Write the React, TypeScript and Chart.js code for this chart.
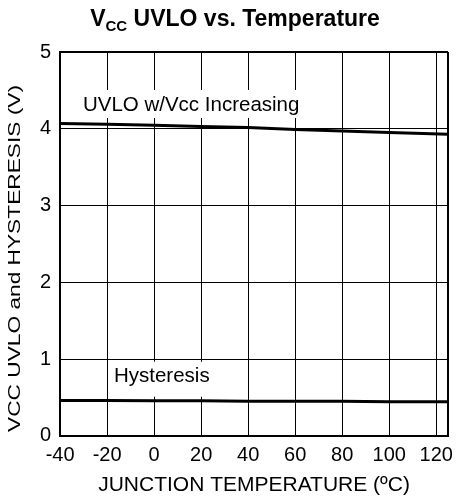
import React, { useEffect, useRef } from 'react';
import { Chart, registerables } from 'chart.js';

Chart.register(...registerables);

// ---- data ----
const temperatures = [-40, -20, 0, 20, 40, 60, 80, 100, 125];
const uvloIncreasing = [4.07, 4.06, 4.045, 4.03, 4.015, 3.99, 3.97, 3.95, 3.93];
const hysteresis = [0.46, 0.46, 0.455, 0.455, 0.45, 0.45, 0.45, 0.445, 0.445];
const xTickValues = [-40, -20, 0, 20, 40, 60, 80, 100, 120];
const yTickValues = [0, 1, 2, 3, 4, 5];
const xMin = -40;
const xMax = 125;
const yMin = 0;
const yMax = 5;

// ---- text ----
const titleMain = 'V';
const titleSub = 'CC';
const titleRest = ' UVLO vs. Temperature';
const yTitle = 'VCC UVLO and HYSTERESIS (V)';
const xTitle = 'JUNCTION TEMPERATURE (ºC)';
const seriesNames = ['UVLO w/Vcc Increasing', 'Hysteresis'];
// label anchors (data coordinates, left edge / vertical middle of the text)
const labelAnchorX = [-30.3, -17.1];
const labelAnchorY = [4.31, 0.77];

const FONT = '"Liberation Sans", Arial, Helvetica, sans-serif';

const textPlugin = {
  id: 'textPlugin',
  beforeDatasetsDraw(chart: any) {
    const { ctx, scales } = chart;
    const x = scales.x;
    const y = scales.y;
    const sizes = [20.5, 20.5];
    const padTop = [15, 15];
    const padBottom = [13, 20];
    ctx.save();
    seriesNames.forEach((name, i) => {
      ctx.font = `${sizes[i]}px ${FONT}`;
      const w = ctx.measureText(name).width;
      const px = x.getPixelForValue(labelAnchorX[i]);
      const py = y.getPixelForValue(labelAnchorY[i]);
      ctx.fillStyle = '#ffffff';
      ctx.fillRect(px - 4, py - padTop[i], w + 8, padTop[i] + padBottom[i]);
      ctx.fillStyle = '#000000';
      ctx.textAlign = 'left';
      ctx.textBaseline = 'middle';
      ctx.fillText(name, px, py);
    });
    ctx.restore();
  },
  afterDraw(chart: any) {
    const { ctx } = chart;
    ctx.save();
    // main title with subscript
    const bigFont = `bold 23px ${FONT}`;
    const subFont = `bold 15px ${FONT}`;
    ctx.font = bigFont;
    const wMain = ctx.measureText(titleMain).width;
    const wRest = ctx.measureText(titleRest).width;
    ctx.font = subFont;
    const wSub = ctx.measureText(titleSub).width;
    const total = wMain + wSub + wRest;
    let sx = 235 - total / 2;
    ctx.fillStyle = '#000000';
    ctx.textAlign = 'left';
    ctx.textBaseline = 'alphabetic';
    ctx.font = bigFont;
    ctx.fillText(titleMain, sx, 26);
    sx += wMain;
    ctx.font = subFont;
    ctx.fillText(titleSub, sx, 31);
    sx += wSub;
    ctx.font = bigFont;
    ctx.fillText(titleRest, sx, 26);

    // y-axis title (rotated, stretched along its length)
    ctx.font = `17px ${FONT}`;
    const wy = ctx.measureText(yTitle).width;
    ctx.translate(15, 258.5);
    ctx.rotate(-Math.PI / 2);
    ctx.scale(347 / wy, 1);
    ctx.textAlign = 'center';
    ctx.textBaseline = 'middle';
    ctx.fillText(yTitle, 0, 0);
    ctx.restore();
  },
};

export default function App() {
  const canvasRef = useRef<HTMLCanvasElement | null>(null);

  useEffect(() => {
    if (!canvasRef.current) return;
    const chart = new Chart(canvasRef.current, {
      type: 'line',
      data: {
        datasets: [
          {
            label: seriesNames[0],
            data: temperatures.map((t, i) => ({ x: t, y: uvloIncreasing[i] })),
            borderColor: '#000000',
            backgroundColor: '#000000',
            borderWidth: 3,
            pointRadius: 0,
            tension: 0,
          },
          {
            label: seriesNames[1],
            data: temperatures.map((t, i) => ({ x: t, y: hysteresis[i] })),
            borderColor: '#000000',
            backgroundColor: '#000000',
            borderWidth: 3,
            pointRadius: 0,
            tension: 0,
          },
        ],
      },
      options: {
        animation: false,
        responsive: true,
        maintainAspectRatio: false,
        layout: { padding: { top: 52, left: 31, right: 2, bottom: 6 } },
        plugins: {
          legend: { display: false },
          title: { display: false },
          tooltip: { enabled: false },
        },
        scales: {
          x: {
            type: 'linear',
            min: xMin,
            max: xMax,
            afterBuildTicks: (scale: any) => {
              scale.ticks = [...xTickValues, xMax].map((v) => ({ value: v }));
            },
            ticks: {
              autoSkip: false,
              maxRotation: 0,
              padding: 8,
              color: '#000000',
              font: { family: FONT, size: 20 },
              callback: (v: any) => (xTickValues.includes(Number(v)) ? String(v) : ''),
            },
            grid: {
              color: '#000000',
              drawTicks: false,
              lineWidth: (c: any) => (c.tick && c.tick.value === xMax ? 2 : 1),
            },
            border: { display: true, color: '#000000', width: 2 },
            title: {
              display: true,
              text: xTitle,
              color: '#000000',
              font: { family: FONT, size: 21 },
              padding: { top: -3, bottom: 0 },
            },
          },
          y: {
            type: 'linear',
            min: yMin,
            max: yMax,
            afterBuildTicks: (scale: any) => {
              scale.ticks = yTickValues.map((v) => ({ value: v }));
            },
            ticks: {
              padding: 9,
              color: '#000000',
              font: { family: FONT, size: 20 },
              callback: (v: any) => String(v),
            },
            grid: {
              color: '#000000',
              drawTicks: false,
              lineWidth: (c: any) => (c.tick && c.tick.value === yMax ? 2 : 1),
            },
            border: { display: true, color: '#000000', width: 2 },
          },
        },
      },
      plugins: [textPlugin],
    });
    return () => chart.destroy();
  }, []);

  return (
    <div style={{ position: 'fixed', left: 0, top: 0, width: 456, height: 504, background: '#ffffff' }}>
      <canvas ref={canvasRef} />
    </div>
  );
}
